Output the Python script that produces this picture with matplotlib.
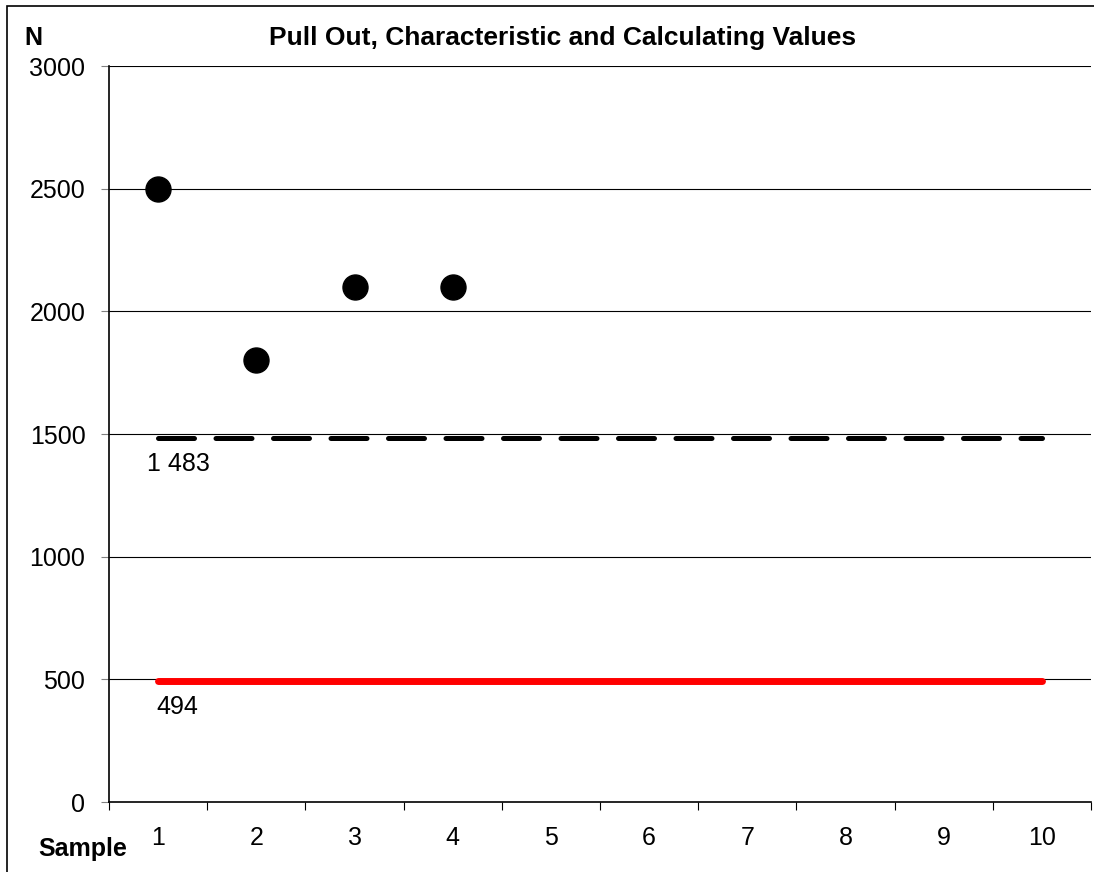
import matplotlib.pyplot as plt
from matplotlib.patches import Rectangle
import numpy as np

plt.rcParams['font.family'] = ['Liberation Sans', 'DejaVu Sans']

# data
samples = [1, 2, 3, 4, 5, 6, 7, 8, 9, 10]
pull_out = [2500, 1800, 2100, 2100]
characteristic = 1483
calculating = 494
char_label = "1 483"
calc_label = "494"

W, H = 1094, 872
fig = plt.figure(figsize=(W / 100, H / 100), dpi=100)
ax = fig.add_axes([109 / W, 1 - 802 / H, (1091 - 109) / W, (802 - 66) / H])

# grid
for v in range(500, 3001, 500):
    ax.axhline(v, color='black', lw=0.8, zorder=1)

# points
ax.plot(samples[:len(pull_out)], pull_out, 'o', color='black', ms=18, zorder=4)

# characteristic value, dashed
ax.plot([samples[0], samples[-1]], [characteristic] * 2, color='black', lw=3.6,
        dashes=(7.2, 4.3), dash_capstyle='round', zorder=3)
ax.annotate(char_label, (samples[0], characteristic), xytext=(-11, -14),
            textcoords='offset pixels', ha='left', va='top', fontsize=18)

# calculating value, red
ax.plot([samples[0], samples[-1]], [calculating] * 2, color='#ff0000', lw=5,
        solid_capstyle='round', zorder=3)
ax.annotate(calc_label, (samples[0], calculating), xytext=(-2, -14),
            textcoords='offset pixels', ha='left', va='top', fontsize=18)

ax.set_xlim(0.5, 10.5)
ax.set_ylim(0, 3000)
ax.set_yticks(np.arange(0, 3001, 500))
ax.tick_params(axis='y', length=6, width=0.8, pad=11, labelsize=18, color='#808080')

ax.set_xticks(np.arange(0.5, 10.6, 1))
ax.set_xticklabels([])
ax.set_xticks(samples, minor=True)
ax.set_xticklabels([str(s) for s in samples], minor=True)
ax.tick_params(axis='x', which='major', length=6, width=0.8, direction='out')
ax.tick_params(axis='x', which='minor', length=0, pad=17, labelsize=18)

for s in ['top', 'right']:
    ax.spines[s].set_visible(False)
for s in ['left', 'bottom']:
    ax.spines[s].set_linewidth(1.2)

fig.text(563 / W, 1 - 38 / H, 'Pull Out, Characteristic and Calculating Values',
         ha='center', va='center', fontsize=19, fontweight='bold')
fig.text(24 / W, 1 - 38 / H, 'N', ha='left', va='center', fontsize=18, fontweight='bold')
fig.text(38 / W, 1 - 849 / H, 'Sample', ha='left', va='center', fontsize=18, fontweight='bold')

# outer frame (top and left edges visible)
fig.patches.append(Rectangle((7 / W, -0.1), 1.2, 1 - 6 / H + 0.1,
                             transform=fig.transFigure, fill=False,
                             edgecolor='black', lw=1.2))

fig.savefig('out.png', dpi=100)
